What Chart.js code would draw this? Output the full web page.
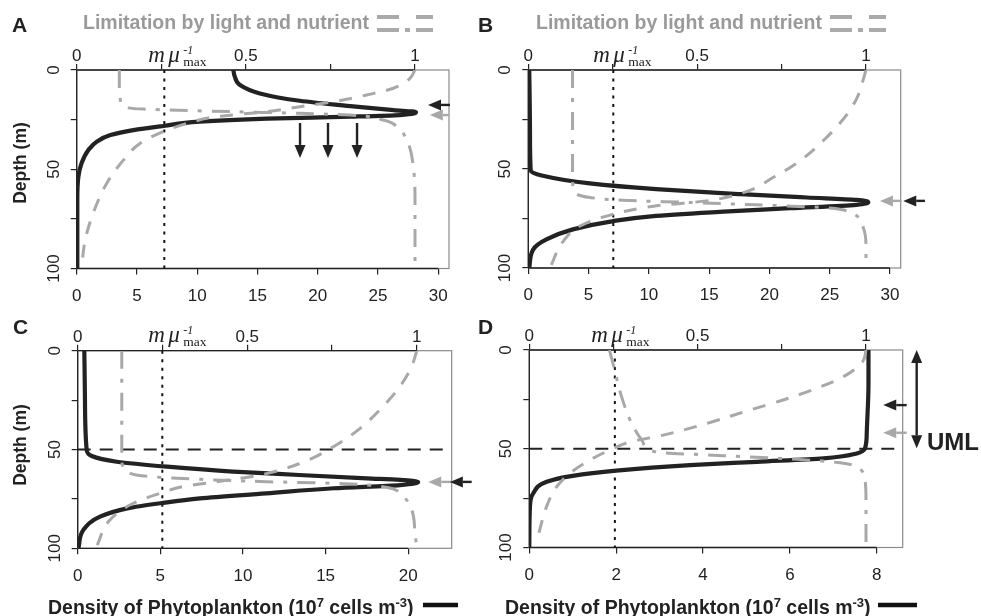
<!DOCTYPE html>
<html><head><meta charset="utf-8">
<script src="https://cdn.jsdelivr.net/npm/chart.js@4.4.0/dist/chart.umd.min.js"></script>
<style>
html,body{margin:0;padding:0;background:#fff;}
#wrap{position:relative;width:981px;height:616px;overflow:hidden;background:#fff;}
canvas{position:absolute;}
svg{position:absolute;left:0;top:0;}
</style></head><body>
<div id="wrap">
<canvas id="cA" width="490" height="312" style="left:0px;top:0px"></canvas>
<canvas id="cB" width="491" height="312" style="left:490px;top:0px"></canvas>
<canvas id="cC" width="490" height="316" style="left:0px;top:300px"></canvas>
<canvas id="cD" width="491" height="316" style="left:490px;top:300px"></canvas>
<svg width="981" height="616" font-family="'Liberation Sans', Arial, sans-serif">
  <g font-weight="bold" font-size="21" fill="#222">
    <text x="12" y="32">A</text>
    <text x="478" y="32">B</text>
    <text x="13" y="333.5">C</text>
    <text x="478" y="333.5">D</text>
  </g>
  <g font-weight="bold" font-size="19.5" fill="#9a9a9a">
    <text x="83" y="28.5">Limitation by light and nutrient</text>
    <text x="536" y="28.5">Limitation by light and nutrient</text>
  </g>
  <g stroke="#aaa" stroke-width="4">
    <line x1="377" y1="17" x2="433" y2="17" stroke-dasharray="22 17 17"/>
    <line x1="377" y1="30" x2="433" y2="30" stroke-dasharray="22 6 5 6 17"/>
    <line x1="830" y1="17" x2="886" y2="17" stroke-dasharray="22 17 17"/>
    <line x1="830" y1="30" x2="886" y2="30" stroke-dasharray="22 6 5 6 17"/>
  </g>
  <g font-weight="bold" font-size="17.5" fill="#222" text-anchor="middle">
    <text transform="translate(26,163) rotate(-90)">Depth (m)</text>
    <text transform="translate(26,445) rotate(-90)">Depth (m)</text>
  </g>
  <g font-weight="bold" font-size="19.5" fill="#222">
    <text x="48" y="613.5">Density of Phytoplankton (10<tspan dy="-7" font-size="13">7</tspan><tspan dy="7"> cells m</tspan><tspan dy="-7" font-size="13">-3</tspan><tspan dy="7">)</tspan></text>
    <text x="505" y="613.5">Density of Phytoplankton (10<tspan dy="-7" font-size="13">7</tspan><tspan dy="7"> cells m</tspan><tspan dy="-7" font-size="13">-3</tspan><tspan dy="7">)</tspan></text>
  </g>
  <g stroke="#111" stroke-width="4.5">
    <line x1="423" y1="605" x2="458" y2="605"/>
    <line x1="878" y1="605" x2="917" y2="605"/>
  </g>
  <text x="927" y="450" font-weight="bold" font-size="24" fill="#222">UML</text>
</svg>
</div>
<script>
// ---------- tick values / labels ----------
const depthTicks = [0, 25, 50, 75, 100];
const depthLabels = ['0', '', '50', '', '100'];
const limitTicks = [0, 0.25, 0.5, 0.75, 1];
const limitLabels = ['0', '', '0.5', '', '1'];
const densityTicksAB = [0, 5, 10, 15, 20, 25, 30];
const densityLabelsAB = ['0', '5', '10', '15', '20', '25', '30'];
const densityTicksC = [0, 5, 10, 15, 20];
const densityLabelsC = ['0', '5', '10', '15', '20'];
const densityTicksD = [0, 2, 4, 6, 8];
const densityLabelsD = ['0', '2', '4', '6', '8'];

// ---------- panel A ----------
const depthA_density = [0, 3, 7.6, 11.8, 15.5, 18.2, 20.2, 21.2, 22.7, 23.5, 24.5, 26, 28.2, 30.3, 32.8, 36.1, 40.3, 47, 53.8, 65.5, 100];
const densityA = [13.0, 13.1, 13.55, 15.2, 18.5, 22.7, 26.3, 28.15, 26.8, 22.7, 15.8, 10.2, 7.2, 4.7, 2.8, 1.66, 0.97, 0.4, 0.14, 0.05, 0.05];
const depthA_light = [0, 4.2, 9.2, 12.6, 16, 18.5, 21, 23.5, 27, 31, 37, 45.4, 57, 72, 85.7, 100];
const lightA = [1.0, 0.985, 0.936, 0.857, 0.759, 0.66, 0.56, 0.414, 0.325, 0.256, 0.187, 0.138, 0.089, 0.049, 0.025, 0.014];
const depthA_nutrient = [0, 10, 13.4, 18.2, 19.7, 21, 21.8, 22.7, 25.2, 29.4, 37, 48.7, 65, 100];
const nutrientA = [0.126, 0.126, 0.128, 0.138, 0.197, 0.463, 0.66, 0.808, 0.906, 0.951, 0.98, 0.995, 1.0, 1.0];

// ---------- panel B ----------
const depthB_density = [0, 32, 50.8, 53.4, 57.3, 60.2, 62.7, 64.4, 65.6, 66.8, 68.1, 69.8, 71.5, 73.7, 76.3, 80.5, 85.6, 90.7, 100];
const densityB = [0.08, 0.14, 0.2, 1.2, 5.1, 10.6, 17.6, 23.1, 27.2, 28.2, 27.2, 21.7, 16.2, 10.6, 7.05, 3.7, 1.5, 0.4, 0.08];
const depthB_light = [0, 5.9, 15.3, 25.4, 35.6, 45.8, 54.2, 61.9, 66.1, 68.6, 72.9, 78.8, 86.4, 100];
const lightB = [1.0, 0.99, 0.97, 0.93, 0.874, 0.805, 0.726, 0.637, 0.528, 0.38, 0.25, 0.153, 0.104, 0.064];
const depthB_nutrient = [0, 56, 59.5, 61.9, 64.4, 65.8, 66.9, 68.1, 69.5, 72, 79.7, 89.8, 100];
const nutrientB = [0.131, 0.131, 0.133, 0.138, 0.183, 0.28, 0.479, 0.676, 0.874, 0.953, 0.992, 1.0, 1.0];

// ---------- panel C ----------
const depthC_density = [0, 25, 50, 53.3, 56.2, 58.7, 61.2, 62.9, 64.6, 65.4, 66.4, 68, 69.6, 72.2, 74.7, 77.2, 79.8, 84, 90.7, 100];
const densityC = [0.4, 0.44, 0.54, 0.85, 2.36, 5.4, 9.4, 13.4, 17.5, 19.5, 20.6, 19.5, 15.5, 11.4, 7.4, 5.0, 3.0, 1.35, 0.34, 0.04];
const depthC_light = [0, 8, 18.2, 28.3, 39.3, 48.6, 57, 62.9, 66.3, 68.8, 72.2, 77.2, 85.7, 99];
const lightC = [1.0, 0.985, 0.95, 0.9, 0.833, 0.754, 0.656, 0.538, 0.41, 0.31, 0.243, 0.164, 0.095, 0.056];
const depthC_nutrient = [0, 55.3, 58.5, 61.2, 63.7, 65.1, 66.3, 67.1, 68.8, 72.2, 80.6, 92.4, 100];
const nutrientC = [0.13, 0.13, 0.133, 0.145, 0.213, 0.361, 0.557, 0.754, 0.9, 0.95, 0.985, 0.995, 1.0];

// ---------- panel D ----------
const depthD_density = [0, 16.9, 42.2, 49.8, 52.4, 54.9, 56.6, 58.3, 61.1, 63.7, 66.7, 72.6, 79.4, 100];
const densityD = [7.81, 7.81, 7.77, 7.73, 7.54, 6.77, 5.24, 3.7, 2.0, 1.0, 0.4, 0.09, 0.015, 0.0];
const depthD_light = [0, 5.9, 13.5, 19.4, 25.3, 30.4, 37.2, 43.1, 46.5, 49.8, 55.7, 62.5, 69.3, 79.4, 93];
const lightD = [1.0, 0.99, 0.933, 0.853, 0.754, 0.655, 0.527, 0.398, 0.3, 0.25, 0.18, 0.12, 0.081, 0.051, 0.028];
const depthD_nutrient = [0, 8.4, 23.6, 37.2, 45.6, 50.3, 52, 53.5, 55.1, 57.1, 59.1, 65.9, 76, 100];
const nutrientD = [0.238, 0.251, 0.274, 0.304, 0.334, 0.358, 0.398, 0.576, 0.774, 0.923, 0.972, 0.997, 1.0, 1.0];

// m / mu_max thresholds (density units) and mixed-layer depth
const thresholdDensity = [7.27, 7.05, 5.12, 1.97];
const umlDepth = 50;

// arrows: [x1, depth1, x2, depth2] in density units
const arrowsA_black = [[30.97, 17.6, 29.15, 17.6], [18.53, 26.7, 18.53, 44.3], [20.85, 26.7, 20.85, 44.3], [23.26, 26.7, 23.26, 44.3]];
const arrowsA_grey = [[30.9, 22.7, 29.3, 22.7]];
const arrowsB_black = [[32.9, 66.1, 31.1, 66.1]];
const arrowsB_grey = [[30.97, 66.1, 29.17, 66.1]];
const arrowsC_black = [[23.84, 66.4, 22.52, 66.4]];
const arrowsC_grey = [[22.63, 66.4, 21.21, 66.4]];
const arrowsD_black = [[8.69, 27.9, 8.15, 27.9]];
const arrowsD_grey = [[8.69, 41.9, 8.15, 41.9]];
const arrowsD_double = [[8.92, 0, 8.92, 49.8]];

// ---------- helpers ----------
const FONT = '"Liberation Sans", Arial, sans-serif';
const BLACK = '#222';
const GREY = '#a8a8a8';
function pts(depths, vals) { return depths.map((d, i) => ({x: vals[i], y: d})); }

function drawArrow(ctx, x1, y1, x2, y2, col, both) {
  const L = 13, W = 5.5;
  const ang = Math.atan2(y2 - y1, x2 - x1);
  const ca = Math.cos(ang), sa = Math.sin(ang);
  ctx.save();
  ctx.strokeStyle = col; ctx.fillStyle = col; ctx.lineWidth = 2.4; ctx.lineCap = 'butt';
  const sx = both ? x1 + ca * L : x1, sy = both ? y1 + sa * L : y1;
  ctx.beginPath(); ctx.moveTo(sx, sy); ctx.lineTo(x2 - ca * L, y2 - sa * L); ctx.stroke();
  const head = (hx, hy, c, s) => {
    ctx.beginPath();
    ctx.moveTo(hx, hy);
    ctx.lineTo(hx - c * L - s * W, hy - s * L + c * W);
    ctx.lineTo(hx - c * L + s * W, hy - s * L - c * W);
    ctx.closePath(); ctx.fill();
  };
  head(x2, y2, ca, sa);
  if (both) head(x1, y1, -ca, -sa);
  ctx.restore();
}

const decoPlugin = {
  id: 'deco',
  beforeDatasetsDraw(chart, args, o) {
    const ctx = chart.ctx, a = chart.chartArea, sx = chart.scales.x, sx2 = chart.scales.x2;
    ctx.save();
    ctx.strokeStyle = '#8a8a8a'; ctx.lineWidth = 1.2;
    ctx.strokeRect(a.left, a.top, a.right - a.left, a.bottom - a.top);
    ctx.strokeStyle = BLACK; ctx.lineWidth = 1.3;
    ctx.beginPath();
    ctx.moveTo(a.left, a.top); ctx.lineTo(a.left, a.bottom);
    ctx.moveTo(sx.getPixelForValue(o.dTicks[0]), a.bottom); ctx.lineTo(sx.getPixelForValue(o.dTicks[o.dTicks.length - 1]), a.bottom);
    ctx.moveTo(sx2.getPixelForValue(limitTicks[0]), a.top); ctx.lineTo(sx2.getPixelForValue(limitTicks[limitTicks.length - 1]), a.top);
    ctx.stroke();
    ctx.restore();
  },
  afterDraw(chart, args, o) {
    const ctx = chart.ctx, a = chart.chartArea, sx = chart.scales.x, sy = chart.scales.y;
    ctx.save();
    // rotated depth tick labels
    ctx.font = '17px ' + FONT; ctx.fillStyle = BLACK; ctx.textAlign = 'center'; ctx.textBaseline = 'alphabetic';
    depthTicks.forEach((v, i) => {
      if (!depthLabels[i]) return;
      ctx.save();
      ctx.translate(a.left - 18, sy.getPixelForValue(v));
      ctx.rotate(-Math.PI / 2);
      ctx.fillText(depthLabels[i], 0, 0);
      ctx.restore();
    });
    // m mu^-1_max label
    const x0 = sx.getPixelForValue(o.thr) + o.muOff, base = a.top - 8.5;
    ctx.textAlign = 'left';
    ctx.font = 'italic 23px "Liberation Serif", "Times New Roman", serif';
    ctx.fillText('m', x0, base);
    ctx.fillText('\u03bc', x0 + 20, base);
    ctx.font = 'italic 12px "Liberation Serif", "Times New Roman", serif';
    ctx.fillText('-1', x0 + 35, base - 8);
    ctx.font = '13.5px "Liberation Serif", "Times New Roman", serif';
    ctx.fillText('max', x0 + 35, base + 4);
    ctx.restore();
    const px = v => sx.getPixelForValue(v), py = v => sy.getPixelForValue(v);
    (o.grey || []).forEach(r => drawArrow(ctx, px(r[0]), py(r[1]), px(r[2]), py(r[3]), GREY, false));
    (o.black || []).forEach(r => drawArrow(ctx, px(r[0]), py(r[1]), px(r[2]), py(r[3]), BLACK, false));
    (o.double || []).forEach(r => drawArrow(ctx, px(r[0]), py(r[1]), px(r[2]), py(r[3]), BLACK, true));
  }
};

function makePanel(cfg) {
  const gridOpt = {display: true, drawOnChartArea: false, drawTicks: true, tickLength: 6, color: BLACK, lineWidth: 1.2};
  const datasets = [
    {data: pts(cfg.light[0], cfg.light[1]), xAxisID: 'x2', borderColor: GREY, borderWidth: 3, borderDash: [13, 11]},
    {data: pts(cfg.nutr[0], cfg.nutr[1]), xAxisID: 'x2', borderColor: GREY, borderWidth: 3, borderDash: [18, 10, 4, 10]},
    {data: pts(cfg.dens[0], cfg.dens[1]), xAxisID: 'x', borderColor: BLACK, borderWidth: 4.2, borderCapStyle: 'round'},
    {data: [{x: cfg.thr, y: 0}, {x: cfg.thr, y: 100}], xAxisID: 'x', borderColor: '#111', borderWidth: 2, borderDash: [3, 5.5], tension: 0, cubicInterpolationMode: 'default'}
  ];
  if (cfg.uml) datasets.push({data: [{x: 0, y: umlDepth}, {x: cfg.xMax, y: umlDepth}], xAxisID: 'x', borderColor: BLACK, borderWidth: 2, borderDash: [13, 9], tension: 0, cubicInterpolationMode: 'default'});
  datasets.forEach(d => {
    d.yAxisID = 'y'; d.pointRadius = 0; d.fill = false; d.borderJoinStyle = 'round';
    if (!d.cubicInterpolationMode) d.cubicInterpolationMode = 'monotone';
  });
  const A = cfg.area;
  return new Chart(document.getElementById(cfg.id), {
    type: 'line',
    data: {datasets},
    plugins: [decoPlugin],
    options: {
      indexAxis: 'y',
      responsive: false, animation: false,
      layout: {padding: {left: 0, top: 0, right: A.padR, bottom: 0}},
      plugins: {
        legend: {display: false}, tooltip: {enabled: false},
        deco: {dTicks: cfg.dTicks, thr: cfg.thr, muOff: cfg.muOff, black: cfg.black, grey: cfg.grey, double: cfg.double}
      },
      scales: {
        x: {
          type: 'linear', position: 'bottom', min: 0, max: cfg.xMax,
          afterFit: s => { s.height = A.botH; },
          afterBuildTicks: s => { s.ticks = cfg.dTicks.map(v => ({value: v})); },
          ticks: {font: {family: FONT, size: 17}, color: BLACK, padding: 11.5, maxRotation: 0, autoSkip: false,
                  callback: (v, i) => cfg.dLabels[i]},
          grid: gridOpt, border: {display: false}
        },
        x2: {
          type: 'linear', position: 'top', min: 0, max: cfg.x2Max,
          afterFit: s => { s.height = A.topH; },
          afterBuildTicks: s => { s.ticks = limitTicks.map(v => ({value: v})); },
          ticks: {font: {family: FONT, size: 17}, color: BLACK, padding: -3, maxRotation: 0, autoSkip: false,
                  callback: (v, i) => limitLabels[i]},
          grid: gridOpt, border: {display: false}
        },
        y: {
          type: 'linear', position: 'left', reverse: true, min: 0, max: 100,
          afterFit: s => { s.width = A.yW; },
          afterBuildTicks: s => { s.ticks = depthTicks.map(v => ({value: v})); },
          ticks: {display: false},
          grid: gridOpt, border: {display: false}
        }
      }
    }
  });
}

makePanel({id: 'cA', area: {yW: 76.7, topH: 70, botH: 43.5, padR: 41}, xMax: 30.89, x2Max: 1.1005,
  dTicks: densityTicksAB, dLabels: densityLabelsAB, thr: thresholdDensity[0], muOff: -16, uml: false,
  dens: [depthA_density, densityA], light: [depthA_light, lightA], nutr: [depthA_nutrient, nutrientA],
  black: arrowsA_black, grey: arrowsA_grey});
makePanel({id: 'cB', area: {yW: 38.3, topH: 70, botH: 44, padR: 80.3}, xMax: 30.89, x2Max: 1.1028,
  dTicks: densityTicksAB, dLabels: densityLabelsAB, thr: thresholdDensity[1], muOff: -20, uml: false,
  dens: [depthB_density, densityB], light: [depthB_light, lightB], nutr: [depthB_nutrient, nutrientB],
  black: arrowsB_black, grey: arrowsB_grey});
makePanel({id: 'cC', area: {yW: 77.7, topH: 50.7, botH: 67.7, padR: 38.3}, xMax: 22.63, x2Max: 1.103,
  dTicks: densityTicksC, dLabels: densityLabelsC, thr: thresholdDensity[2], muOff: -14, uml: true,
  dens: [depthC_density, densityC], light: [depthC_light, lightC], nutr: [depthC_nutrient, nutrientC],
  black: arrowsC_black, grey: arrowsC_grey});
makePanel({id: 'cD', area: {yW: 39.3, topH: 50, botH: 68.5, padR: 78.3}, xMax: 8.598, x2Max: 1.109,
  dTicks: densityTicksD, dLabels: densityLabelsD, thr: thresholdDensity[3], muOff: -23.5, uml: true,
  dens: [depthD_density, densityD], light: [depthD_light, lightD], nutr: [depthD_nutrient, nutrientD],
  black: arrowsD_black, grey: arrowsD_grey, double: arrowsD_double});
</script>
</body></html>
